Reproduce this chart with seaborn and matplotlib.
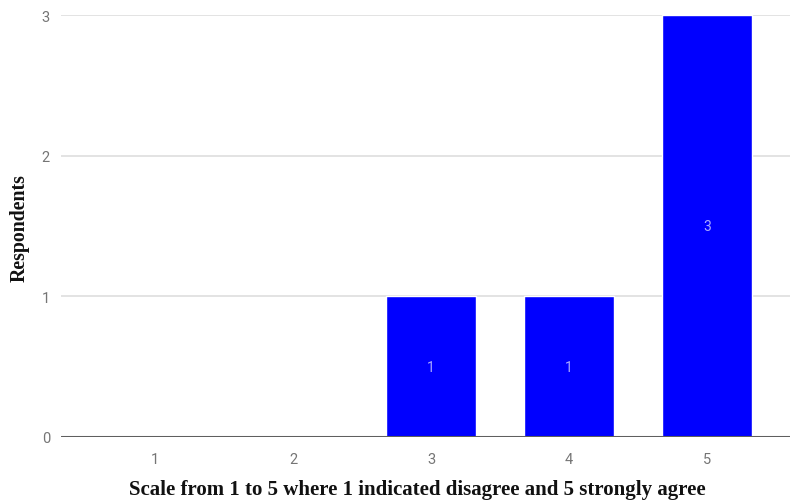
import matplotlib
matplotlib.use("Agg")
import matplotlib.pyplot as plt
import seaborn as sns
import pandas as pd

# Survey responses per point of the agreement scale
scale_points = ["1", "2", "3", "4", "5"]
respondents = [0, 0, 1, 1, 3]
y_ticks = [0, 1, 2, 3]

x_label = "Scale from 1 to 5 where 1 indicated disagree and 5 strongly agree"
y_label = "Respondents"

df = pd.DataFrame({"scale": scale_points, "count": respondents})

sns.set_theme(style="white")
plt.rcParams["font.family"] = ["Roboto", "DejaVu Sans"]

fig = plt.figure(figsize=(7.90, 5.02), dpi=100)
ax = fig.add_axes([61 / 790, 1 - 438 / 502, 729 / 790, 422 / 502])

sns.barplot(data=df, x="scale", y="count", color="#0000ff", width=0.65,
            saturation=1, ax=ax, zorder=3)

ax.set_xlim(-0.681, 4.60)
ax.set_ylim(0, 3)
ax.set_yticks(y_ticks)
ax.set_yticklabels([str(t) for t in y_ticks])

for s in ax.spines.values():
    s.set_visible(False)
ax.axhline(0, color="#5f5f5f", lw=2.2, zorder=4)
for t in y_ticks[1:]:
    ax.axhline(t, color="#e3e3e3", lw=1.4, zorder=1)

ax.tick_params(axis="both", length=0, colors="#757575", labelsize=10.5)
ax.tick_params(axis="x", pad=10.5)
ax.tick_params(axis="y", pad=8)

# Value labels in the middle of each non-empty bar
for i, v in enumerate(respondents):
    if v > 0:
        ax.text(i, v / 2, str(v), ha="center", va="center",
                color="#aaaaff", fontsize=10, zorder=5)

ax.set_xlabel("")
ax.set_ylabel("")
fig.text(417 / 790, 1 - 490 / 502, x_label, ha="center", va="center",
         family="Liberation Serif", fontweight="bold", fontsize=15,
         color="#111111")
fig.text(20 / 790, 1 - 228 / 502, y_label, ha="center", va="center",
         rotation=90, family="Liberation Serif", fontweight="bold",
         fontsize=14.3, color="#111111")

fig.savefig("out.png", dpi=100)
